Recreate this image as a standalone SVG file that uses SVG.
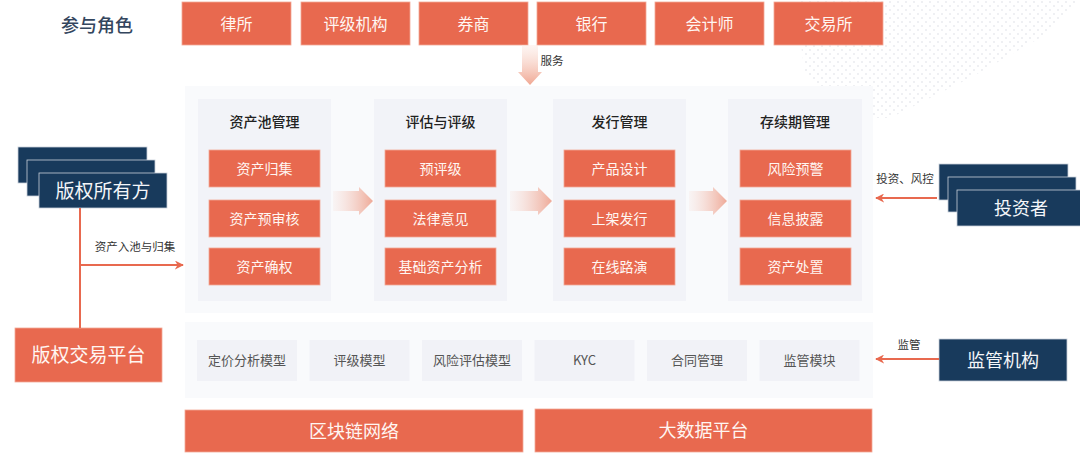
<svg xmlns="http://www.w3.org/2000/svg" width="1080" height="458" viewBox="0 0 1080 458">
<style>
text{font-family:"Noto Sans CJK SC","Noto Sans",sans-serif;text-anchor:middle}
.org{fill:#e8694f;stroke:#f3a896;stroke-width:0.8}
.navy{fill:#183a5c;stroke:#c9d0da;stroke-width:0.8}
.wt{fill:#fff6f2}
.panel{fill:#f9fafc}
.col{fill:#f2f3f8}
.item{fill:#f1f2f7}
.ttl{font-size:14px;fill:#222;font-weight:500}
.sub{font-size:14px}
.lbl{font-size:11.5px;fill:#333}
.itxt{font-size:13px;fill:#555}
.conn{stroke:#e8694f;stroke-width:2;fill:none}
</style>
<defs>
<pattern id="dots" width="8" height="8" patternUnits="userSpaceOnUse">
<circle cx="2" cy="2" r="0.8" fill="#d5d9e1"/>
<circle cx="6" cy="6" r="0.8" fill="#d5d9e1"/>
</pattern>
<linearGradient id="gh" x1="0" y1="0" x2="1" y2="0">
<stop offset="0" stop-color="#f6d3c9" stop-opacity="0.15"/>
<stop offset="1" stop-color="#eea592" stop-opacity="0.95"/>
</linearGradient>
<linearGradient id="gv" x1="0" y1="0" x2="0" y2="1">
<stop offset="0" stop-color="#fbe6df" stop-opacity="0.4"/>
<stop offset="1" stop-color="#f0a792"/>
</linearGradient>
<marker id="ah" viewBox="0 0 10 10" refX="9" refY="5" markerWidth="4.5" markerHeight="4.5" orient="auto">
<path d="M0,0 L10,5 L0,10 L3,5 Z" fill="#e8694f"/>
</marker>
</defs>
<rect width="1080" height="458" fill="#ffffff"/>
<polygon points="795,0 1080,0 1045,35 970,78 890,118 860,118 805,75" fill="url(#dots)" opacity="0.9"/>

<text x="97" y="31.5" style="font-size:18px;fill:#34465e;font-weight:500">参与角色</text>

<g id="roles">
<g id="role-lvsuo"><rect class="org" x="182" y="2" width="109" height="43"/><text class="wt" x="236.5" y="29.5" style="font-size:16px">律所</text></g>
<g id="role-pingji"><rect class="org" x="301" y="2" width="109" height="43"/><text class="wt" x="355.5" y="29.5" style="font-size:16px">评级机构</text></g>
<g id="role-quanshang"><rect class="org" x="419" y="2" width="109" height="43"/><text class="wt" x="473.5" y="29.5" style="font-size:16px">券商</text></g>
<g id="role-yinhang"><rect class="org" x="537" y="2" width="109" height="43"/><text class="wt" x="591.5" y="29.5" style="font-size:16px">银行</text></g>
<g id="role-kuaiji"><rect class="org" x="655" y="2" width="109" height="43"/><text class="wt" x="709.5" y="29.5" style="font-size:16px">会计师</text></g>
<g id="role-jiaoyisuo"><rect class="org" x="774" y="2" width="109" height="43"/><text class="wt" x="828.5" y="29.5" style="font-size:16px">交易所</text></g>
</g>

<g id="platform-upper">
<rect class="panel" x="185" y="86" width="688" height="227"/>
</g>
<g id="platform-lower">
<rect class="panel" x="185" y="322" width="688" height="76"/>
</g>

<g id="col-pool">
<rect class="col" x="198" y="99" width="133" height="202"/>
<text class="ttl" x="264.5" y="127">资产池管理</text>
<rect class="org" x="209" y="150" width="111" height="37"/><text class="wt sub" x="264.5" y="173.5">资产归集</text>
<rect class="org" x="209" y="200" width="111" height="37"/><text class="wt sub" x="264.5" y="223.5">资产预审核</text>
<rect class="org" x="209" y="248" width="111" height="37"/><text class="wt sub" x="264.5" y="271.5">资产确权</text>
</g>
<g id="col-rating">
<rect class="col" x="374" y="99" width="133" height="202"/>
<text class="ttl" x="440.5" y="127">评估与评级</text>
<rect class="org" x="385" y="150" width="111" height="37"/><text class="wt sub" x="440.5" y="173.5">预评级</text>
<rect class="org" x="385" y="200" width="111" height="37"/><text class="wt sub" x="440.5" y="223.5">法律意见</text>
<rect class="org" x="385" y="248" width="111" height="37"/><text class="wt sub" x="440.5" y="271.5">基础资产分析</text>
</g>
<g id="col-issue">
<rect class="col" x="553" y="99" width="133" height="202"/>
<text class="ttl" x="619.5" y="127">发行管理</text>
<rect class="org" x="564" y="150" width="111" height="37"/><text class="wt sub" x="619.5" y="173.5">产品设计</text>
<rect class="org" x="564" y="200" width="111" height="37"/><text class="wt sub" x="619.5" y="223.5">上架发行</text>
<rect class="org" x="564" y="248" width="111" height="37"/><text class="wt sub" x="619.5" y="271.5">在线路演</text>
</g>
<g id="col-duration">
<rect class="col" x="728" y="99" width="134" height="202"/>
<text class="ttl" x="795" y="127">存续期管理</text>
<rect class="org" x="740" y="150" width="111" height="37"/><text class="wt sub" x="795.5" y="173.5">风险预警</text>
<rect class="org" x="740" y="200" width="111" height="37"/><text class="wt sub" x="795.5" y="223.5">信息披露</text>
<rect class="org" x="740" y="248" width="111" height="37"/><text class="wt sub" x="795.5" y="271.5">资产处置</text>
</g>

<g id="modules">
<g id="m1"><rect class="item" x="197" y="340" width="100" height="41"/><text class="itxt" x="247" y="365">定价分析模型</text></g>
<g id="m2"><rect class="item" x="309.5" y="340" width="100" height="41"/><text class="itxt" x="359.5" y="365">评级模型</text></g>
<g id="m3"><rect class="item" x="422" y="340" width="100" height="41"/><text class="itxt" x="472" y="365">风险评估模型</text></g>
<g id="m4"><rect class="item" x="534.5" y="340" width="100" height="41"/><text class="itxt" x="584.5" y="365">KYC</text></g>
<g id="m5"><rect class="item" x="647" y="340" width="100" height="41"/><text class="itxt" x="697" y="365">合同管理</text></g>
<g id="m6"><rect class="item" x="759.5" y="340" width="100" height="41"/><text class="itxt" x="809.5" y="365">监管模块</text></g>
</g>

<g id="blockchain"><rect class="org" x="185" y="410" width="338" height="42"/><text class="wt" x="354" y="437.5" style="font-size:18px">区块链网络</text></g>
<g id="bigdata"><rect class="org" x="535" y="409" width="337" height="43"/><text class="wt" x="703.5" y="437" style="font-size:18px">大数据平台</text></g>

<g id="owner">
<rect class="navy" x="18" y="147" width="129" height="36"/>
<rect class="navy" x="27" y="160" width="128" height="36"/>
<rect class="navy" x="39" y="173" width="128" height="35"/>
<text x="103" y="197.5" style="font-size:19px;fill:#f4f6f9">版权所有方</text>
</g>
<g id="exchange">
<rect class="org" x="15" y="328" width="147" height="54"/>
<text class="wt" x="88.5" y="362" style="font-size:19px">版权交易平台</text>
</g>
<g id="investor">
<rect class="navy" x="939" y="164" width="129" height="36"/>
<rect class="navy" x="948" y="177" width="128" height="35"/>
<rect class="navy" x="957" y="190" width="126" height="36"/>
<text x="1021" y="214.5" style="font-size:18px;fill:#f4f6f9">投资者</text>
</g>
<g id="regulator">
<rect class="navy" x="939" y="339" width="128" height="42"/>
<text x="1003" y="366.5" style="font-size:18px;fill:#f4f6f9">监管机构</text>
</g>

<g id="connectors">
<path d="M522,45 L538,45 L538,72 L542,72 L530,85 L518,72 L522,72 Z" fill="url(#gv)"/>
<text class="lbl" x="552" y="65">服务</text>
<path d="M333,191 L359,191 L359,187 L373,201 L359,215 L359,211 L333,211 Z" fill="url(#gh)"/>
<path d="M510,191 L538,191 L538,187 L552,201 L538,215 L538,211 L510,211 Z" fill="url(#gh)"/>
<path d="M689,191 L713,191 L713,187 L727,201 L713,215 L713,211 L689,211 Z" fill="url(#gh)"/>
<path class="conn" d="M80,208 L80,328"/>
<path class="conn" d="M80,265 L183,265" marker-end="url(#ah)"/>
<text class="lbl" x="135" y="251">资产入池与归集</text>
<path class="conn" d="M937,198 L876,198" marker-end="url(#ah)"/>
<text class="lbl" x="905" y="183">投资、风控</text>
<path class="conn" d="M939,359 L876,359" marker-end="url(#ah)"/>
<text class="lbl" x="909" y="349">监管</text>
</g>
</svg>
